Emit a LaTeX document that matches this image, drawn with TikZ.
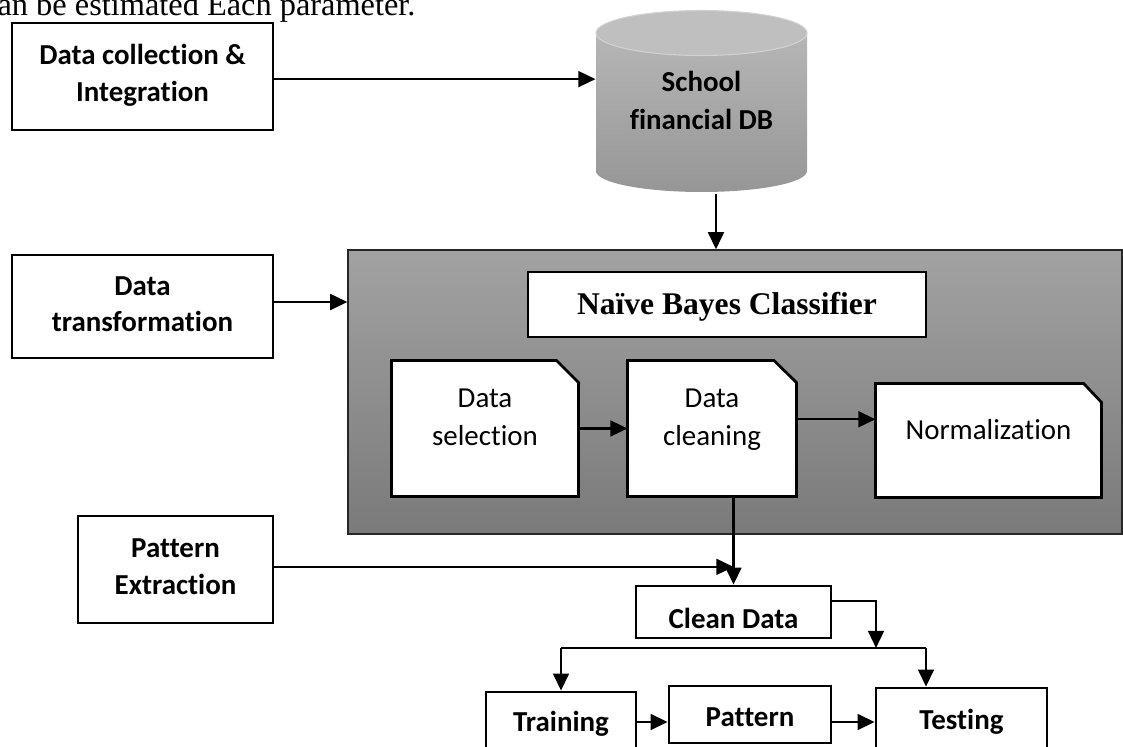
\documentclass[tikz,border=0pt]{standalone}
\usepackage{fontspec}
\setmainfont[Ligatures=NoCommon]{Carlito}
\newfontfamily\timesfont{Liberation Serif}
\usetikzlibrary{arrows.meta,fit,calc}

\definecolor{panelTop}{HTML}{A2A2A2}
\definecolor{panelBot}{HTML}{7A7A7A}
\definecolor{dbTop}{HTML}{BFBFBF}
\definecolor{dbBodyTop}{HTML}{B6B6B6}
\definecolor{dbBodyBot}{HTML}{969696}

\begin{document}
\begin{tikzpicture}[x=0.38pt, y=-0.38pt,
  box/.style={draw, line width=1.05pt, fill=white, inner sep=0pt},
  zone/.style={inner sep=0pt},
  doc/.style={draw, line width=1.05pt, fill=white, line join=miter},
  bold/.style={inner sep=0pt, anchor=base, font=\fontsize{11pt}{14pt}\selectfont\bfseries},
  plain/.style={inner sep=0pt, anchor=base, font=\fontsize{11pt}{14pt}\selectfont},
  conn/.style={line width=0.9pt},
  arr/.style={conn, -{Triangle[length=6.5pt,width=6pt]}}]

\useasboundingbox (0,0) rectangle (1123,747);
\clip (0,0) rectangle (1123,747);

% running text above the figure
\node[anchor=base east, inner sep=0pt, font=\timesfont\fontsize{12.3pt}{14pt}\selectfont]
  (intro) at (416,16) {can be estimated Each parameter.};

% stage boxes on the left
\node[box, fit={(12,23) (273,130)}] (collect) {};
\node[bold] (collect1) at (142.5,65) {Data collection \&};
\node[bold] (collect2) at (142.5,102) {Integration};

\node[box, fit={(12,255) (273,358)}] (trans) {};
\node[bold] (trans1) at (142.5,296) {Data};
\node[bold] (trans2) at (142.5,332) {transformation};

\node[box, fit={(78,516) (273,623)}] (pext) {};
\node[bold] (pext1) at (175.5,557) {Pattern};
\node[bold] (pext2) at (175.5,594) {Extraction};

% database cylinder
\path[top color=dbBodyTop, bottom color=dbBodyBot]
  (596,33) -- (596,171)
  arc[start angle=180, end angle=360, x radius=40.09pt, y radius=7.98pt]
  -- (807,33) -- cycle;
\fill[dbTop, draw=gray!35, line width=0.4pt] (701.5,33) ellipse[x radius=40.09pt, y radius=8.55pt];
\node[zone, fit={(596,10) (807,193)}] (db) {};
\node[bold] (db1) at (701.5,92) {School};
\node[bold] (db2) at (701.5,130) {financial DB};

% classifier panel
\node[zone, fit={(348,250) (1122,534)}, draw=black!85, line width=0.5pt,
      top color=panelTop, bottom color=panelBot] (panel) {};
\node[box, fit={(528,272) (926,337)}] (nbc) {};
\node[inner sep=0pt, anchor=base, font=\timesfont\fontsize{12pt}{14pt}\selectfont\bfseries]
  (nbctext) at (727,315) {Naïve Bayes Classifier};

% preprocessing documents
\node[zone, fit={(392,361) (578,496)}] (dsel) {};
\draw[doc] (dsel.south west) -- (dsel.north west) -- ([xshift=-8.4pt]dsel.north east)
  -- ([yshift=-8.4pt]dsel.north east) -- (dsel.south east) -- cycle;
\node[plain] (dsel1) at (485,408) {Data};
\node[plain] (dsel2) at (485,446) {selection};

\node[zone, fit={(628,361) (796,496)}] (dcl) {};
\draw[doc] (dcl.south west) -- (dcl.north west) -- ([xshift=-8.6pt]dcl.north east)
  -- ([yshift=-8.4pt]dcl.north east) -- (dcl.south east) -- cycle;
\node[plain] (dcl1) at (712,408) {Data};
\node[plain] (dcl2) at (712,446) {cleaning};

\node[zone, fit={(876,384) (1101,497)}] (norm) {};
\draw[doc] (norm.south west) -- (norm.north west) -- ([xshift=-6.8pt]norm.north east)
  -- ([yshift=-7.2pt]norm.north east) -- (norm.south east) -- cycle;
\node[plain] (normtext) at (988.5,440) {Normalization};

% lower boxes
\node[box, fit={(636,586) (831,638)}] (clean) {};
\node[bold] (cleantext) at (733.5,628) {Clean Data};
\node[box, fit={(486,692) (636,752)}] (train) {};
\node[bold] (traintext) at (561,731) {Training};
\node[box, fit={(669,686) (831,743)}] (pat) {};
\node[bold] (pattext) at (750,726) {Pattern};
\node[box, fit={(876,688) (1047,756)}] (test) {};
\node[bold] (testtext) at (961.5,729) {Testing};

% connectors
\draw[arr] ([yshift=-1pt]collect.east) -- ([yshift=-1pt]collect.east -| db.west);
\draw[arr] ([xshift=5.5pt]db.south) -- ([xshift=5.5pt]db.south |- panel.north);
\draw[arr] ([yshift=1.7pt]trans.east) -- ([yshift=1.7pt]trans.east -| panel.west);
\draw[arr] (dsel.east) -- (dsel.east -| dcl.west);
\draw[arr] ([yshift=3.5pt]dcl.east) -- ([yshift=3.5pt]dcl.east -| norm.west);
\draw[arr] (clean.north |- dcl.south) -- (clean.north);
\draw[arr] ([yshift=1pt]pext.east) -- ([yshift=1pt]pext.east -| clean.north);

\coordinate (split) at (876,648);
\coordinate (splitR) at (926,648);
\draw[arr] ([yshift=4.2pt]clean.east) -| (split);
\draw[conn] (train.north |- split) -- (splitR);
\draw[arr] (train.north |- split) -- (train.north);
\draw[arr] (splitR) -- (splitR |- test.north);
\draw[arr] (train.east) -- (train.east -| pat.west);
\draw[arr] (pat.east |- test.west) -- (test.west);
\end{tikzpicture}
\end{document}
